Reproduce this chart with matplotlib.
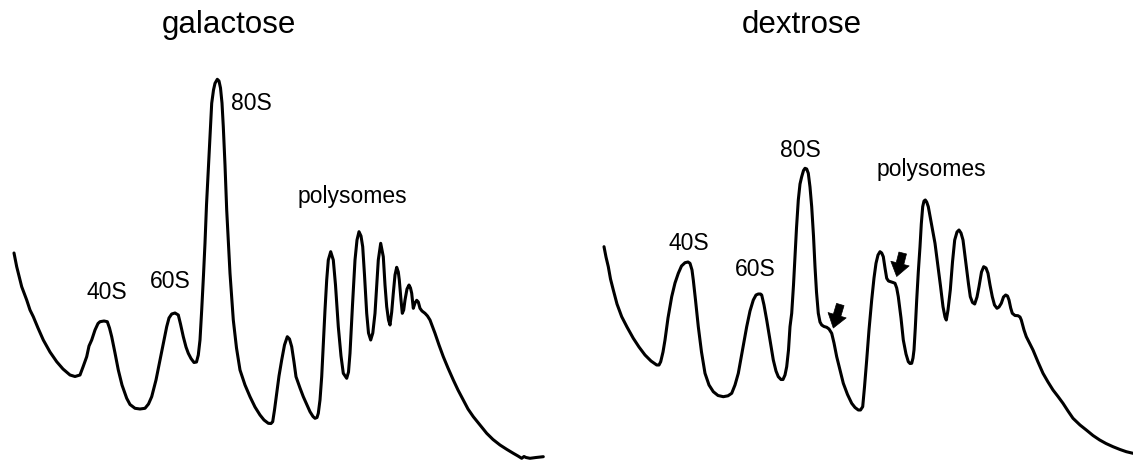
import matplotlib
matplotlib.use("Agg")
import matplotlib.pyplot as plt

plt.rcParams['font.family'] = ['Liberation Sans', 'DejaVu Sans']

# Traced absorbance profiles (x = gradient position, y = trace height in image units, larger = lower)
gal_pts = [(14, 253), (16.7, 266.7), (19.5, 278), (21.7, 286.7), (26.7, 300), (30, 310), (33.3, 316.7), (38, 328),
           (43.3, 340), (50, 352), (56.7, 361.7), (63, 369), (70, 375), (75, 376.5), (80, 375), (83, 367), (86.7, 356.7),
           (89, 346), (91.7, 340), (95, 330), (98, 323.5), (100, 321.7), (104, 321), (107.3, 321.7), (109.5, 328),
           (111.7, 336.7), (115, 353), (118.3, 370), (122, 385), (126.7, 398.3), (130, 404.5), (135, 408.3), (140, 409),
           (145, 408.3), (148.5, 404), (151.7, 396.7), (156, 380), (160, 360), (163.5, 342), (166.7, 326.7), (169, 318),
           (171.7, 314), (175, 313), (178.3, 315), (180.5, 324), (183.3, 336.7), (186, 347), (188.3, 353.3), (191, 358.5),
           (194, 362.5), (196.5, 362), (198.3, 355), (200, 340), (201.7, 310), (203.5, 275), (205, 243), (206.5, 205),
           (208.3, 170), (210, 135), (211.7, 103.3), (213.5, 90), (215, 83.3), (217.3, 79.3), (219, 81), (220.5, 88),
           (222, 103), (223.3, 126.7), (225, 165), (226.7, 210), (228.5, 245), (230, 273.3), (233.3, 320), (236.5, 348),
           (240, 370), (245, 385), (250, 396.7), (255, 407), (260, 415), (264, 420), (268.3, 423.3), (271, 423.5),
           (272.7, 421.7), (274.5, 410), (276.7, 393.3), (279, 376), (281.7, 360), (284.5, 345), (287.3, 336.7),
           (289.5, 339), (291.7, 346.7), (294, 362), (296, 376.7), (300, 388), (303.3, 396.7), (307, 405), (310, 411.7),
           (313, 416.5), (315, 418.3), (317, 417.5), (318.3, 413.3), (320, 400), (321.7, 376.7), (323.3, 345), (325, 310),
           (326.7, 280), (328.3, 260), (330.7, 251.7), (333.3, 260), (335.5, 285), (338.3, 326.7), (341, 356),
           (343.3, 373.3), (346.7, 378.3), (348.5, 372), (350, 353.3), (352.5, 305), (355, 260), (357, 240), (359, 231.7),
           (361, 236), (362.7, 246.7), (364.5, 275), (366.7, 313.3), (368.5, 333), (370.7, 340), (372.8, 333),
           (375, 313.3), (377, 280), (378.3, 260), (380.7, 243.3), (383.3, 256.7), (385, 285), (386.7, 306.7),
           (388.5, 320), (390, 325), (391.7, 312), (393.3, 293.3), (395, 275), (396.7, 267.3), (398.3, 272), (399.3, 280),
           (401, 300), (402.3, 313.3), (403.7, 310), (405, 300), (407, 289), (409, 285), (410.5, 288), (411.7, 293.3),
           (413.3, 308.3), (415, 303), (416.7, 300.3), (418.3, 302), (420, 308.3), (422, 311), (425, 313.3),
           (427.5, 316), (430, 320), (435, 333.3), (439, 345), (443.3, 356.7), (448, 368), (453.3, 380), (458, 390),
           (463.3, 400), (468, 409), (473.3, 416.7), (480, 425), (486.7, 433.3), (493, 439.5), (500, 445), (507, 449.5),
           (513.3, 453.3), (518, 456), (521.7, 458.3), (524, 456.5), (526, 457.5), (530, 458.3), (536, 457.5),
           (543.3, 456.7)]

dex_pts = [(604, 246.7), (606, 257), (608.3, 266.7), (610.5, 279), (613.3, 290), (617, 304), (621.7, 316.7), (627, 327),
           (633.3, 338.3), (639, 347), (645, 355), (651, 361), (656.7, 365), (659, 365), (660.7, 361.7), (663, 352),
           (665, 340), (668, 318), (671.7, 296.7), (675, 283), (678.3, 273.3), (681.5, 266), (685, 262.7), (688, 262),
           (690, 263.3), (692, 270), (693.3, 280), (695.5, 300), (698.3, 326.7), (701.5, 352), (705, 373.3), (709, 385),
           (713.3, 391.7), (718, 395.5), (723.3, 396.7), (728, 395.8), (731.7, 393.3), (735, 385), (738.3, 373.3),
           (742.5, 350), (746.7, 326.7), (750, 311), (753.3, 300), (756, 295), (758.3, 294), (760.5, 294), (761.7, 295),
           (764, 305), (766.7, 320), (770, 340), (773.3, 360), (776, 371), (778.3, 376.7), (781, 379.5), (783, 379.5),
           (785, 375), (786.7, 366.7), (788.5, 350), (790, 326.7), (791.7, 313.3), (793.5, 285), (795, 256.7),
           (796.5, 228), (798.3, 200), (800, 184), (801.7, 176.7), (803.5, 170.5), (805, 168.3), (806.7, 169),
           (808.3, 173.3), (810, 187), (811.7, 206.7), (813.5, 236), (815, 266.7), (816.5, 292), (818.3, 313.3),
           (820, 322), (821.7, 325), (824, 326.5), (826.7, 327.3), (829, 329), (831.7, 333.3), (834, 343), (836.7, 356.7),
           (840, 370), (843.3, 383.3), (847.5, 394.5), (851.7, 403.3), (855, 407.5), (858.3, 410), (860.5, 410),
           (862.7, 406.7), (864.5, 387), (866.7, 360), (869, 330), (871.7, 300), (874, 278), (876, 263.3), (878, 255),
           (880, 251.7), (881.7, 253), (883.3, 256.7), (885, 268), (886.7, 278.3), (888.5, 281), (890.7, 281.7),
           (893, 282.5), (895, 283.3), (896.7, 288), (898.3, 296.7), (901, 318), (903.3, 340), (906, 354), (908.3, 361.7),
           (910, 363.5), (911.7, 363.3), (913, 358), (914, 350), (915.3, 328), (916.7, 300), (918.3, 272), (920, 246.7),
           (921.3, 224), (922.7, 206.7), (924, 201), (925.3, 200), (926.7, 202), (928.3, 206.7), (931.5, 224),
           (935, 243.3), (938, 266.7), (940.5, 286), (943, 306.7), (945, 317), (946.3, 320), (948, 310), (950.3, 290),
           (952.5, 262), (954.7, 240), (957, 232), (959, 230), (961, 233), (963, 240), (966.3, 266.7), (968.5, 284),
           (970.3, 296.7), (972.5, 302.5), (974.7, 304), (977, 297), (979, 286.7), (981.5, 272), (983.7, 266.7),
           (986, 268), (988, 273.3), (990, 285), (992.3, 296.7), (994.5, 305), (997, 308.3), (999, 307), (1001.3, 303.3),
           (1003.5, 297), (1005.7, 295), (1007.5, 296), (1009, 300), (1010.7, 308), (1012.3, 313.3), (1015, 315.5),
           (1018, 315.7), (1020, 317), (1021.3, 320), (1024, 330), (1026.3, 336.7), (1029, 342), (1033, 350),
           (1038, 362), (1043, 373.3), (1048, 382), (1053, 390), (1058, 396.5), (1063, 403.3), (1068, 411),
           (1073, 418.3), (1080, 425), (1086.3, 430), (1093, 435.5), (1099.7, 440), (1106, 443.5), (1113, 446.7),
           (1120, 449.5), (1126.3, 451.7), (1133, 453.3)]

gal_x = [p[0] for p in gal_pts]
gal_y = [p[1] for p in gal_pts]
dex_x = [p[0] for p in dex_pts]
dex_y = [p[1] for p in dex_pts]

titles = ["galactose", "dextrose"]
title_pos = [(228.5, 33), (801.5, 33)]
peak_labels = ["40S", "60S", "80S", "polysomes"]
gal_label_pos = [(107.3, 299), (170.7, 288), (251, 110), (352.5, 203)]
dex_label_pos = [(689, 250), (755.7, 276), (800.7, 156.5), (931, 176)]
arrows = [((840.3, 304.5), (833.3, 328)), ((902.7, 253), (896.7, 276.5))]

W, H = 1133, 461
fig = plt.figure(figsize=(W / 100, H / 100), dpi=100)
ax = fig.add_axes([0, 0, 1, 1])
ax.set_xlim(0, W)
ax.set_ylim(H, 0)
ax.axis('off')

for xs, ys in [(gal_x, gal_y), (dex_x, dex_y)]:
    ax.plot(xs, ys, color='black', lw=2.2, solid_joinstyle='round', solid_capstyle='round')

for t, (x, y) in zip(titles, title_pos):
    ax.text(x, y, t, fontsize=22.5, ha='center', va='baseline', color='black')

for pos_list in [gal_label_pos, dex_label_pos]:
    for lab, (x, y) in zip(peak_labels, pos_list):
        ax.text(x, y, lab, fontsize=16.5, ha='center', va='baseline', color='black')

for tail, tip in arrows:
    ax.annotate('', xy=tip, xytext=tail,
                arrowprops=dict(arrowstyle='simple,head_length=0.6,head_width=0.85,tail_width=0.35',
                                fc='black', ec='black', lw=0.5, shrinkA=0, shrinkB=0, mutation_scale=16))

fig.savefig('out.png', dpi=100)
